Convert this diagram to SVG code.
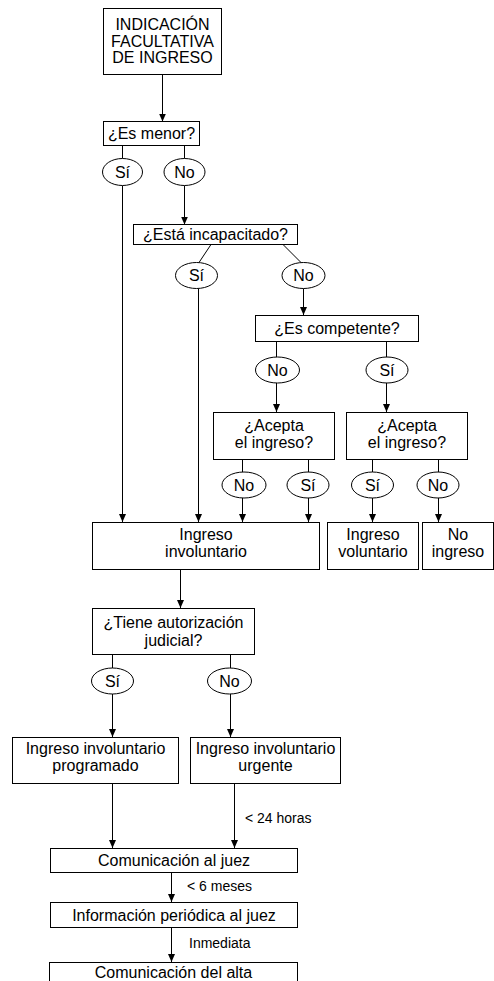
<svg xmlns="http://www.w3.org/2000/svg" width="494" height="981" viewBox="0 0 494 981">
<defs>
<marker id="ah" markerUnits="userSpaceOnUse" markerWidth="8" markerHeight="8" refX="8" refY="4" orient="auto">
<path d="M0,0.5 L8,4 L0,7.5 z" fill="#000"/>
</marker>
<style>
rect, ellipse { fill: #fff; stroke: #000; stroke-width: 1; }
.c line { stroke: #000; stroke-width: 1; }
.c .a { marker-end: url(#ah); }
text { font-family: "Liberation Sans", Arial, sans-serif; font-size: 16px; fill: #000; text-anchor: middle; }
.lbl { font-size: 14px; text-anchor: start; }
</style>
</defs>
<rect x="0" y="0" width="494" height="981" style="fill:#fff;stroke:none"/>
<g class="c" id="connectors">
<line class="a" x1="162.5" y1="75" x2="162.5" y2="121.5"/>
<line x1="122.5" y1="145" x2="122.5" y2="158.5"/>
<line x1="184.5" y1="145" x2="184.5" y2="158.5"/>
<line class="a" x1="122.5" y1="185.5" x2="122.5" y2="522"/>
<line class="a" x1="184.5" y1="185.5" x2="184.5" y2="224.5"/>
<line x1="211" y1="244.5" x2="199" y2="262.5"/>
<line x1="283" y1="244.5" x2="301" y2="262.5"/>
<line class="a" x1="198.5" y1="288.5" x2="198.5" y2="522"/>
<line class="a" x1="303.5" y1="288.5" x2="303.5" y2="315"/>
<line x1="276.5" y1="342" x2="276.5" y2="357"/>
<line x1="386.5" y1="342" x2="386.5" y2="357"/>
<line class="a" x1="276.5" y1="383" x2="276.5" y2="412"/>
<line class="a" x1="386.5" y1="383" x2="386.5" y2="412"/>
<line x1="242.5" y1="460" x2="242.5" y2="472"/>
<line x1="308.5" y1="460" x2="308.5" y2="472"/>
<line x1="372.5" y1="460" x2="372.5" y2="472"/>
<line x1="438.5" y1="460" x2="438.5" y2="472"/>
<line class="a" x1="242.5" y1="498" x2="242.5" y2="522"/>
<line class="a" x1="308.5" y1="498" x2="308.5" y2="522"/>
<line class="a" x1="372.5" y1="498" x2="372.5" y2="522"/>
<line class="a" x1="438.5" y1="498" x2="438.5" y2="522"/>
<line class="a" x1="180.5" y1="569" x2="180.5" y2="608"/>
<line x1="112.5" y1="654" x2="112.5" y2="668"/>
<line x1="230.5" y1="654" x2="230.5" y2="668"/>
<line class="a" x1="112.5" y1="694" x2="112.5" y2="737"/>
<line class="a" x1="230.5" y1="694" x2="230.5" y2="737"/>
<line class="a" x1="112.5" y1="783" x2="112.5" y2="848"/>
<line class="a" x1="234.5" y1="783" x2="234.5" y2="848"/>
<line class="a" x1="171.5" y1="872" x2="171.5" y2="902"/>
<line class="a" x1="171.5" y1="927" x2="171.5" y2="962"/>
<text class="lbl" x="245" y="823">&lt; 24 horas</text>
<text class="lbl" x="187" y="891">&lt; 6 meses</text>
<text class="lbl" x="189" y="948">Inmediata</text>
</g>
<g id="n_indicacion">
<rect x="103.5" y="8.5" width="118" height="66"/>
<text x="162.5" y="30">INDICACIÓN</text>
<text x="162.5" y="46.5">FACULTATIVA</text>
<text x="162.5" y="63">DE INGRESO</text>
</g>
<g id="n_menor">
<rect x="103.5" y="121.5" width="96" height="24"/>
<text x="151.5" y="139">¿Es menor?</text>
</g>
<g id="n_menor_si">
<ellipse cx="122.5" cy="172" rx="20" ry="13.5"/>
<text x="122.5" y="177.5">Sí</text>
</g>
<g id="n_menor_no">
<ellipse cx="184.5" cy="172" rx="20.5" ry="13.5"/>
<text x="184.5" y="177.5">No</text>
</g>
<g id="n_incap">
<rect x="133.5" y="224.5" width="164" height="20"/>
<text x="215.5" y="240">¿Está incapacitado?</text>
</g>
<g id="n_incap_si">
<ellipse cx="196.5" cy="275.5" rx="21" ry="13"/>
<text x="196.5" y="281">Sí</text>
</g>
<g id="n_incap_no">
<ellipse cx="303.5" cy="275.5" rx="21.5" ry="13"/>
<text x="303.5" y="281">No</text>
</g>
<g id="n_compet">
<rect x="255.5" y="315.5" width="163" height="26"/>
<text x="337" y="334">¿Es competente?</text>
</g>
<g id="n_compet_no">
<ellipse cx="277.5" cy="370" rx="22" ry="13"/>
<text x="277.5" y="375.5">No</text>
</g>
<g id="n_compet_si">
<ellipse cx="387" cy="370" rx="21" ry="13"/>
<text x="387" y="375.5">Sí</text>
</g>
<g id="n_acepta1">
<rect x="213.5" y="412.5" width="121" height="47"/>
<text x="274" y="431">¿Acepta</text>
<text x="274" y="448">el ingreso?</text>
</g>
<g id="n_acepta2">
<rect x="346.5" y="412.5" width="121" height="47"/>
<text x="407" y="431">¿Acepta</text>
<text x="407" y="448">el ingreso?</text>
</g>
<g id="n_a1_no">
<ellipse cx="244" cy="485" rx="22" ry="13"/>
<text x="244" y="490.5">No</text>
</g>
<g id="n_a1_si">
<ellipse cx="308" cy="485" rx="21" ry="13"/>
<text x="308" y="490.5">Sí</text>
</g>
<g id="n_a2_si">
<ellipse cx="372.5" cy="485" rx="21" ry="13"/>
<text x="372.5" y="490.5">Sí</text>
</g>
<g id="n_a2_no">
<ellipse cx="438" cy="485" rx="21" ry="13"/>
<text x="438" y="490.5">No</text>
</g>
<g id="n_involuntario">
<rect x="92.5" y="522.5" width="227" height="47"/>
<text x="206" y="540">Ingreso</text>
<text x="206" y="557">involuntario</text>
</g>
<g id="n_voluntario">
<rect x="327.5" y="522.5" width="91" height="47"/>
<text x="373" y="540">Ingreso</text>
<text x="373" y="557">voluntario</text>
</g>
<g id="n_noingreso">
<rect x="422.5" y="522.5" width="71" height="47"/>
<text x="458" y="540">No</text>
<text x="458" y="557">ingreso</text>
</g>
<g id="n_autorizacion">
<rect x="92.5" y="608.5" width="162" height="46"/>
<text x="173.5" y="628">¿Tiene autorización</text>
<text x="173.5" y="646">judicial?</text>
</g>
<g id="n_aut_si">
<ellipse cx="112.5" cy="681" rx="21" ry="13"/>
<text x="112.5" y="686.5">Sí</text>
</g>
<g id="n_aut_no">
<ellipse cx="229.5" cy="681" rx="22" ry="13"/>
<text x="229.5" y="686.5">No</text>
</g>
<g id="n_programado">
<rect x="12.5" y="737.5" width="166" height="46"/>
<text x="95.5" y="754">Ingreso involuntario</text>
<text x="95.5" y="771">programado</text>
</g>
<g id="n_urgente">
<rect x="190.5" y="737.5" width="150" height="46"/>
<text x="265.5" y="754">Ingreso involuntario</text>
<text x="265.5" y="771">urgente</text>
</g>
<g id="n_comjuez">
<rect x="50.5" y="848.5" width="247" height="24"/>
<text x="174" y="866">Comunicación al juez</text>
</g>
<g id="n_infojuez">
<rect x="50.5" y="902.5" width="247" height="25"/>
<text x="174" y="920.5">Información periódica al juez</text>
</g>
<g id="n_alta">
<rect x="49.5" y="962.5" width="248" height="30"/>
<text x="173.5" y="978">Comunicación del alta</text>
</g>
</svg>
